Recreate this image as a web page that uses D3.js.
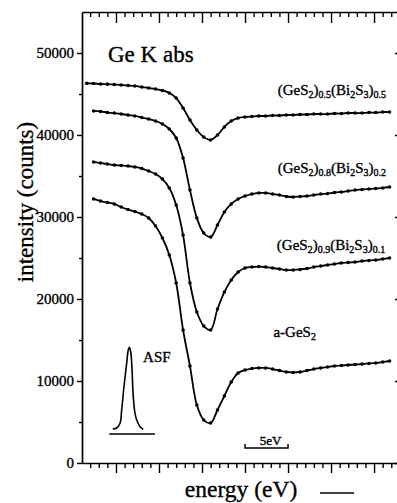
<!DOCTYPE html>
<html><head><meta charset="utf-8">
<script src="https://cdn.jsdelivr.net/npm/d3@7"></script>
<style>
html,body{margin:0;padding:0;background:#fff;}
svg{display:block;}
text{font-family:"Liberation Serif","Times New Roman",serif;fill:#000;stroke:#000;stroke-width:0.35px;}
</style>
</head><body><div id="chart"></div>
<script>
// ---- data ----
const energy = [-3.4,-2.6,-1.8,-1.0,-0.2,0.6,1.4,2.2,3.0,3.8,4.6,5.4,6.2,7.0,7.8,8.6,9.4,10.2,11.0,11.8,12.6,13.4,14.2,15.0,15.8,16.6,17.4,18.2,19.0,19.8,20.6,21.4,22.2,23.0,23.8,24.6,25.4,26.2,27.0,27.8,28.6,29.4,30.2,31.0,31.8];
const seriesNames = ["(GeS2)0.5(Bi2S3)0.5","(GeS2)0.8(Bi2S3)0.2","(GeS2)0.9(Bi2S3)0.1","a-GeS2"];
const s05 = [46300,46280,46220,46200,46150,46100,46040,45980,45850,45730,45610,45430,45120,44510,43290,41830,40610,39760,39390,40000,40980,41710,42070,42190,42260,42320,42320,42380,42380,42440,42440,42500,42500,42560,42560,42560,42620,42620,42680,42680,42680,42740,42740,42800,42800];
const s08 = [null,42930,42870,42740,42680,42560,42440,42320,42130,41950,41710,41340,40730,39630,37200,33290,29880,28050,27560,29020,30610,31590,32200,32560,32800,32930,32930,32800,32680,32500,32440,32500,32560,32680,32800,32860,32990,33050,33170,33290,33350,33410,33480,33540,33660];
const s09 = [null,36710,36590,36460,36340,36280,36220,36100,35910,35610,35240,34630,33540,31460,27800,21950,18410,16710,16220,18780,20850,22320,23290,23780,23900,23960,23900,23780,23660,23540,23540,23600,23720,23900,24020,24150,24270,24390,24450,24510,24630,24690,24760,24880,25000];
const sGeS2 = [null,32200,31950,31770,31590,31220,30910,30670,30370,29880,28900,27440,25370,21950,16220,11830,7070,5240,4880,6460,8170,9880,10980,11340,11520,11590,11590,11460,11280,11100,11040,11100,11280,11460,11590,11710,11830,11890,11950,12010,12070,12130,12200,12320,12440];
const yTickValues = [0,10000,20000,30000,40000,50000];
const yMinorValues = [5000,15000,25000,35000,45000];
const xMajorValues = [0,5,10,15,20,25,30];
const xMinorValues = [-3,-2,-1,1,2,3,4,6,7,8,9,11,12,13,14,16,17,18,19,21,22,23,24,26,27,28,29,31,32];
const asfEnergy = [-0.38,0.08,0.47,0.66,0.93,1.24,1.43,1.55,1.71,1.83,2.01,2.21,2.41,2.79,3.17];
const asfValue  = [4150,4270,4840,6460,9300,12160,13780,14110,13570,12160,8090,6060,5240,4430,4110];
const asfBase = [[-0.78,3540],[4.53,3540]];
const scaleBar = [15,20];

// ---- layout ----
const W = 397, H = 503;
const L = 82, R = 399, T = 12, B = 463;
const x = d3.scaleLinear().domain([-3.95, 32.9]).range([L, R]);
const y = d3.scaleLinear().domain([0, 55000]).range([B, T]);

const svg = d3.select("#chart").append("svg").attr("width", W).attr("height", H);
svg.append("rect").attr("width", W).attr("height", H).attr("fill", "#fff");

function styleAxis(g, w) {
  g.select(".domain").attr("stroke", "#000").attr("stroke-width", w || 1.7);
  g.selectAll(".tick line").attr("stroke", "#000").attr("stroke-width", 1.4);
}

// bottom axis
const gb = svg.append("g").attr("transform", `translate(0,${B})`);
gb.call(d3.axisBottom(x).tickValues(xMajorValues).tickSize(10).tickSizeOuter(0).tickFormat(""));
styleAxis(gb);
const gb2 = svg.append("g").attr("transform", `translate(0,${B})`);
gb2.call(d3.axisBottom(x).tickValues(xMinorValues).tickSize(5).tickSizeOuter(0).tickFormat(""));
gb2.select(".domain").remove(); styleAxis(gb2);

// top axis (ticks inward)
const gt = svg.append("g").attr("transform", `translate(0,${T})`);
gt.call(d3.axisTop(x).tickValues(xMajorValues).tickSize(-11).tickSizeOuter(0).tickFormat(""));
styleAxis(gt);
const gt2 = svg.append("g").attr("transform", `translate(0,${T})`);
gt2.call(d3.axisTop(x).tickValues(xMinorValues).tickSize(-5).tickSizeOuter(0).tickFormat(""));
gt2.select(".domain").remove(); styleAxis(gt2);

// left axis
const gl = svg.append("g").attr("transform", `translate(${L},0)`);
gl.call(d3.axisLeft(y).tickValues(yTickValues).tickSize(5).tickPadding(3).tickSizeOuter(0).tickFormat(d3.format("d")));
styleAxis(gl);
gl.selectAll(".tick text").attr("font-size", 15);
const gl2 = svg.append("g").attr("transform", `translate(${L},0)`);
gl2.call(d3.axisLeft(y).tickValues(yMinorValues).tickSize(3).tickSizeOuter(0).tickFormat(""));
gl2.select(".domain").remove(); styleAxis(gl2);

// right axis (inward ticks)
const gr = svg.append("g").attr("transform", `translate(${R},0)`);
gr.call(d3.axisRight(y).tickValues(yTickValues).tickSize(-4).tickSizeOuter(0).tickFormat(""));
styleAxis(gr);

// curves
const all = [s05, s08, s09, sGeS2];
const line = d3.line()
  .defined(d => d[1] != null)
  .x(d => x(d[0])).y(d => y(d[1]))
  .curve(d3.curveCatmullRom.alpha(0.5));
all.forEach(vals => {
  const pts = energy.map((e, i) => [e, vals[i]]);
  svg.append("path").datum(pts).attr("d", line)
    .attr("fill", "none").attr("stroke", "#000").attr("stroke-width", 1.8);
  svg.append("g").selectAll("circle").data(pts.filter(d => d[1] != null)).join("circle")
    .attr("cx", d => x(d[0])).attr("cy", d => y(d[1])).attr("r", 1.8).attr("fill", "#000");
});

// series labels with subscripts
const labelPos = [[18.8, 44880], [18.8, 35400], [18.7, 25980], [18.3, 15370]];
seriesNames.forEach((name, i) => {
  const t = svg.append("text").attr("x", x(labelPos[i][0])).attr("y", y(labelPos[i][1])).attr("font-size", 15);
  const parts = name.split(/([0-9.]+)/).filter(s => s.length);
  let sub = false;
  parts.forEach(p => {
    const isSub = /^[0-9.]+$/.test(p);
    const ts = t.append("tspan").text(p);
    if (isSub) { ts.attr("font-size", 10); if (!sub) ts.attr("dy", 3); sub = true; }
    else { if (sub) ts.attr("dy", -3); sub = false; }
  });
});

// ASF inset
const asfPts = asfEnergy.map((e, i) => [e, asfValue[i]]);
svg.append("path").datum(asfPts).attr("d", line).attr("fill", "none").attr("stroke", "#000").attr("stroke-width", 1.6);
svg.append("line").attr("x1", x(asfBase[0][0])).attr("x2", x(asfBase[1][0]))
  .attr("y1", y(asfBase[0][1])).attr("y2", y(asfBase[1][1])).attr("stroke", "#000").attr("stroke-width", 1.6);
svg.append("text").attr("x", x(3.15)).attr("y", y(12300)).attr("font-size", 15).text("ASF");

// 5 eV scale bar
const sbY = y(1830);
svg.append("path").attr("d", `M${x(scaleBar[0])},${sbY-4}V${sbY}H${x(scaleBar[1])}V${sbY-4}`)
  .attr("fill", "none").attr("stroke", "#000").attr("stroke-width", 1.5);
svg.append("text").attr("x", (x(scaleBar[0]) + x(scaleBar[1])) / 2 + 4).attr("y", sbY - 3)
  .attr("text-anchor", "middle").attr("font-size", 13).text("5eV");

// titles
svg.append("text").attr("x", 108).attr("y", 62).attr("font-size", 23).text("Ge K abs");
svg.append("text").attr("transform", "translate(33,202) rotate(-90)").attr("text-anchor", "middle")
  .attr("font-size", 23).text("intensity (counts)");
svg.append("text").attr("x", 241).attr("y", 497).attr("text-anchor", "middle").attr("font-size", 23.5).text("energy (eV)");
svg.append("line").attr("x1", 320).attr("x2", 354).attr("y1", 493).attr("y2", 493).attr("stroke", "#000").attr("stroke-width", 1.6);
</script>
</body></html>
